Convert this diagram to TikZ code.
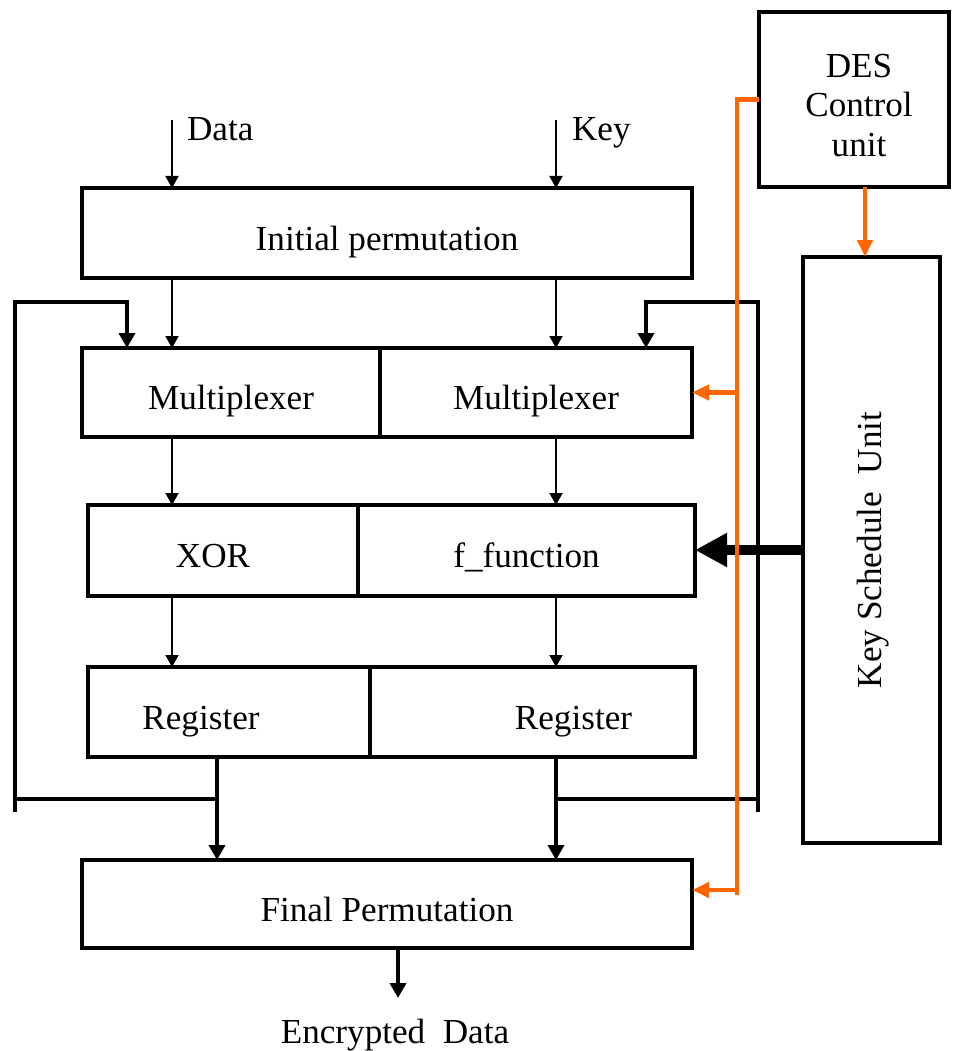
\documentclass[tikz,border=0pt]{standalone}
\usepackage{fontspec}
\setmainfont{Liberation Serif}
\usepackage{xcolor}
\definecolor{desorange}{HTML}{FF6600}
\usepackage{tikz}
\usetikzlibrary{positioning,arrows.meta}
\newcommand{\desfont}{\fontsize{20}{22.7}\selectfont}
\tikzset{
  box/.style   ={rectangle, draw=black, line width=2.8pt, inner sep=0pt, outer sep=0pt,
                 align=center, font=\desfont},
  blk/.style   ={box, text height=0.68cm, text depth=0pt},
  lbl/.style   ={font=\desfont, inner sep=1pt, align=center},
  tarr/.style  ={-{Triangle[length=2.4mm, width=2.6mm]}, line width=1.1pt},
  fb/.style    ={line width=2.6pt},
  fbarr/.style ={fb, -{Triangle[length=3mm, width=3.2mm]}},
  ctl/.style   ={draw=desorange, line width=2.8pt},
  ctlarr/.style={ctl, -{Triangle[length=3.4mm, width=3mm]}},
  keyarr/.style={-{Triangle[length=6.4mm, width=6.4mm]}, line width=5.6pt},
}

\begin{document}
\begin{tikzpicture}
  \useasboundingbox (0,0) rectangle (19.08,-21.02);
  \node[blk, minimum width=12.2cm, minimum height=1.8cm] (ip) at (7.74,-4.66) {Initial permutation};
  \node[blk, minimum width=5.96cm, minimum height=1.78cm] (muxL) at (4.62,-7.85) {Multiplexer};
  \node[blk, minimum width=6.24cm, minimum height=1.78cm, right=0mm of muxL] (muxR) {Multiplexer};
  \node[blk, minimum width=5.4cm, minimum height=1.82cm] (xor) at (4.46,-11.01) {XOR\hspace*{0.4cm}};
  \node[blk, minimum width=6.74cm, minimum height=1.82cm, right=0mm of xor] (ffun) {f\_function};
  \node[blk, minimum width=5.64cm, minimum height=1.8cm] (regL) at (4.58,-14.24) {Register\hspace*{1.12cm}};
  \node[blk, minimum width=6.5cm, minimum height=1.8cm, right=0mm of regL] (regR) {\hspace*{1.64cm}Register};
  \node[blk, minimum width=12.2cm, minimum height=1.76cm] (fp) at (7.74,-18.08) {Final Permutation};
  \node[box, minimum width=3.8cm, minimum height=3.5cm] (ctrl) at (17.08,-1.99) {};
  \node[lbl] (ctrllbl) at ([xshift=0.1cm, yshift=-0.12cm]ctrl.center) {DES\\Control\\unit};
  \node[box, minimum width=2.74cm, minimum height=11.72cm] (ksu) at (17.43,-11.0) {};
  \node[lbl, rotate=90] (ksulbl) at ([xshift=0.03cm]ksu.center) {Key Schedule~ Unit};
  \node[lbl, anchor=base west] (dlbl) at (3.7,-2.82) {Data};
  \node[lbl, anchor=base west] (klbl) at (11.4,-2.82) {Key};
  \node[lbl] (enc) at (7.9,-20.7) {Encrypted~ Data};

  \coordinate (dataIn) at (3.44,-2.4);
  \coordinate (keyIn) at (11.12,-2.4);
  \coordinate (fbLb) at (0.3,-16.24);
  \coordinate (fbLt) at (2.54,-6.04);
  \coordinate (fbRb) at (15.16,-16.24);
  \coordinate (fbRt) at (12.92,-6.04);
  \coordinate (tapL) at (4.34,-15.98);
  \coordinate (tapR) at (11.12,-15.98);
  \coordinate (busT) at (14.74,-1.99);
  \coordinate (busB) at (14.74,-17.9);
  \coordinate (fpIn) at (13.84,-17.8);
  \coordinate (kx) at (17.3,0);
  \coordinate (outx) at (7.96,-19.96);

  \draw[tarr] (dataIn) -- (dataIn |- ip.north);
  \draw[tarr] (keyIn) -- (keyIn |- ip.north);
  \foreach \c in {dataIn,keyIn}{
    \draw[tarr] (ip.south -| \c) -- (muxL.north -| \c);
    \draw[tarr] (muxL.south -| \c) -- (xor.north -| \c);
    \draw[tarr] (xor.south -| \c) -- (regL.north -| \c);
  }

  \draw[fbarr] (fbLb) |- (fbLt) -- (fbLt |- muxL.north);
  \draw[fb] (fbLb |- tapL) -- (tapL);
  \draw[fbarr] (regL.south -| tapL) -- (tapL |- fp.north);
  \draw[fbarr] (fbRb) |- (fbRt) -- (fbRt |- muxR.north);
  \draw[fb] (tapR) -- (fbRb |- tapR);
  \draw[fbarr] (regR.south -| tapR) -- (tapR |- fp.north);

  \draw[keyarr] (ksu.west) -- (ffun.east |- ksu.west);
  \draw[fbarr] (fp.south -| outx) -- (outx);

  \draw[ctl] (ctrl.west) -- (busT) -- (busB);
  \draw[ctlarr] (busT |- muxR.east) -- (muxR.east);
  \draw[ctlarr] (busT |- fpIn) -- (fp.east |- fpIn);
  \draw[ctlarr] (ctrl.south -| kx) -- (ksu.north -| kx);
\end{tikzpicture}
\end{document}
